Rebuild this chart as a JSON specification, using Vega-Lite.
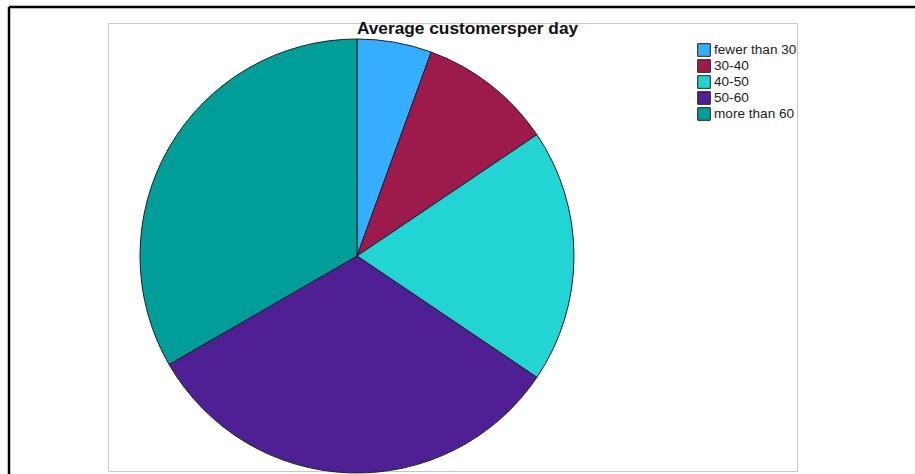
{
  "$schema": "https://vega.github.io/schema/vega-lite/v6.json",
  "width": 689,
  "height": 448,
  "autosize": {"type": "none"},
  "padding": {"left": 108, "top": 23, "right": 118, "bottom": 3},
  "background": "white",
  "config": {
    "view": {"stroke": "#c8c8c8", "strokeWidth": 1},
    "font": "Liberation Sans"
  },
  "title": {
    "text": "Average customersper day",
    "font": "Liberation Sans",
    "fontSize": 17.3,
    "fontWeight": "bold",
    "color": "#111111",
    "anchor": "middle",
    "dx": 15,
    "offset": -32
  },
  "layer": [
    {
      "data": {
        "values": [
          {"group": "fewer than 30", "ord": 1, "count": 5},
          {"group": "30-40", "ord": 2, "count": 9},
          {"group": "40-50", "ord": 3, "count": 17},
          {"group": "50-60", "ord": 4, "count": 29},
          {"group": "more than 60", "ord": 5, "count": 30}
        ]
      },
      "mark": {"type": "arc", "radius": 217, "x": 249, "y": 233, "stroke": "#1e1e2a", "strokeWidth": 1},
      "encoding": {
        "theta": {"field": "count", "type": "quantitative", "stack": true},
        "order": {"field": "ord", "type": "quantitative"},
        "color": {
          "field": "group",
          "type": "nominal",
          "scale": {
            "domain": ["fewer than 30", "30-40", "40-50", "50-60", "more than 60"],
            "range": ["#36aeff", "#9d1a4c", "#22d4d4", "#4e2094", "#009d99"]
          },
          "legend": {
            "title": null,
            "orient": "none",
            "legendX": 589,
            "legendY": 20,
            "symbolType": "square",
            "symbolSize": 160,
            "symbolStrokeColor": "#222222",
            "symbolStrokeWidth": 1,
            "labelFont": "Liberation Sans",
            "labelFontSize": 13.6,
            "labelColor": "#222222",
            "labelOffset": 3,
            "clipHeight": 14,
            "rowPadding": 2,
            "padding": 0
          }
        }
      }
    },
    {
      "data": {"values": [{}]},
      "mark": {"type": "rule", "color": "black", "strokeWidth": 2.5},
      "encoding": {
        "x": {"value": -99},
        "x2": {"value": 810},
        "y": {"value": -16},
        "y2": {"value": -16}
      }
    },
    {
      "data": {"values": [{}]},
      "mark": {"type": "rule", "color": "black", "strokeWidth": 2.5},
      "encoding": {
        "x": {"value": -99},
        "x2": {"value": -99},
        "y": {"value": -16},
        "y2": {"value": 460}
      }
    }
  ]
}
